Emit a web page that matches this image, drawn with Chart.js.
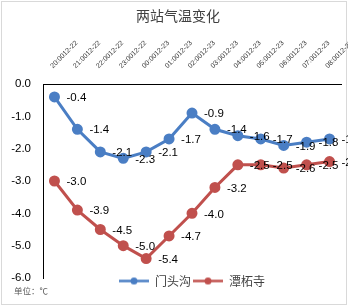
<!DOCTYPE html>
<html>
<head>
<meta charset="utf-8">
<script src="https://cdn.jsdelivr.net/npm/chart.js@4.4.1/dist/chart.umd.min.js"></script>
<style>
  html, body { margin: 0; padding: 0; background: #fff; }
</style>
</head>
<body>
<canvas id="tempChart" width="348" height="306"></canvas>
<script>
// hourly readings, 20:00 on 12-22 to 08:00 on 12-23
const times = ['20:0012-22', '21:0012-22', '22:0012-22', '23:0012-22', '00:0012-23', '01:0012-23',
               '02:0012-23', '03:0012-23', '04:0012-23', '05:0012-23', '06:0012-23', '07:0012-23', '08:0012-23'];
const mentougou = [-0.4, -1.4, -2.1, -2.3, -2.1, -1.7, -0.9, -1.4, -1.6, -1.7, -1.9, -1.8, -1.7];
const tanzhesi = [-3.0, -3.9, -4.5, -5.0, -5.4, -4.7, -4.0, -3.2, -2.5, -2.5, -2.6, -2.5, -2.4];
const yMin = -6;
const yMax = 0;

const BLUE = '#4a7ec4';
const RED = '#c0504d';
const NUM_FONT = '"Liberation Sans", Arial, sans-serif';
const CJK_FONT = '"Noto Sans CJK SC", sans-serif';

// small line + dot swatch for the legend
function legendMarker(color) {
    const c = document.createElement('canvas');
    c.width = 30;
    c.height = 9;
    const g = c.getContext('2d');
    g.strokeStyle = color;
    g.lineWidth = 2.5;
    g.beginPath();
    g.moveTo(0, 4.5);
    g.lineTo(30, 4.5);
    g.stroke();
    g.fillStyle = color;
    g.beginPath();
    g.arc(15, 4.5, 3.5, 0, Math.PI * 2);
    g.fill();
    return c;
}

// value labels to the right of every point
const pointLabels = {
    id: 'pointLabels',
    afterDatasetsDraw(chart) {
        const ctx = chart.ctx;
        ctx.save();
        ctx.font = '11.5px ' + NUM_FONT;
        ctx.fillStyle = '#000';
        ctx.textAlign = 'left';
        ctx.textBaseline = 'middle';
        chart.data.datasets.forEach((ds, i) => {
            chart.getDatasetMeta(i).data.forEach((pt, j) => {
                ctx.fillText(ds.data[j].toFixed(1), pt.x + 12, pt.y + 1);
            });
        });
        ctx.restore();
    }
};

// white background and thin frame
const frame = {
    id: 'frame',
    beforeDraw(chart) {
        const ctx = chart.ctx;
        ctx.save();
        ctx.fillStyle = '#fff';
        ctx.fillRect(0, 0, chart.width, chart.height);
        ctx.strokeStyle = '#d9d9d9';
        ctx.lineWidth = 1;
        ctx.strokeRect(1.5, 1.5, chart.width - 3, chart.height - 3);
        ctx.restore();
    }
};

// legend sits just under the plot like in excel,
// and the y labels must not be clipped by the left padding
const layoutTweaks = {
    id: 'layoutTweaks',
    afterLayout(chart) {
        const lg = chart.legend;
        if (lg) {
            lg.top = chart.chartArea.bottom - 5;
            lg.bottom = lg.top + 20;
        }
        chart.scales.y.left = 0;
    }
};

new Chart(document.getElementById('tempChart'), {
    type: 'line',
    data: {
        labels: times,
        datasets: [{
            label: '门头沟',
            data: mentougou,
            borderColor: BLUE,
            backgroundColor: BLUE,
            pointBackgroundColor: BLUE,
            pointBorderColor: BLUE,
            borderWidth: 3,
            pointRadius: 4,
            tension: 0
        }, {
            label: '潭柘寺',
            data: tanzhesi,
            borderColor: RED,
            backgroundColor: RED,
            pointBackgroundColor: RED,
            pointBorderColor: RED,
            borderWidth: 3,
            pointRadius: 4,
            tension: 0
        }]
    },
    options: {
        responsive: false,
        animation: false,
        layout: {
            padding: { left: 14, right: 6, top: 0, bottom: 9.8 }
        },
        plugins: {
            title: {
                display: true,
                text: '两站气温变化',
                color: '#404040',
                font: { family: CJK_FONT, size: 14, weight: 'normal' },
                padding: { top: 7.6, bottom: 0 }
            },
            subtitle: {
                display: true,
                text: '单位：℃',
                position: 'bottom',
                align: 'start',
                color: '#595959',
                font: { family: CJK_FONT, size: 8.5 },
                padding: 0
            },
            legend: {
                position: 'bottom',
                fullSize: false,
                maxHeight: 8,
                labels: {
                    usePointStyle: true,
                    pointStyleWidth: 30,
                    padding: 2,
                    font: { family: CJK_FONT, size: 12 },
                    generateLabels: chart => chart.data.datasets.map((ds, i) => ({
                        text: ds.label,
                        pointStyle: legendMarker(ds.borderColor),
                        fillStyle: ds.borderColor,
                        strokeStyle: ds.borderColor,
                        fontColor: '#404040',
                        lineWidth: 0,
                        hidden: false,
                        datasetIndex: i
                    }))
                }
            },
            tooltip: { enabled: false }
        },
        scales: {
            x: {
                position: 'top',
                offset: true,
                grid: { display: false, drawTicks: false },
                border: { color: '#000', width: 1 },
                ticks: {
                    autoSkip: false,
                    minRotation: 45,
                    maxRotation: 45,
                    padding: 14,
                    labelOffset: 3,
                    color: '#333',
                    font: { family: NUM_FONT, size: 7 }
                },
                afterFit(s) {
                    s.height = 59.6;
                    s.paddingLeft = 0;
                    s.paddingRight = 0;
                }
            },
            y: {
                min: yMin,
                max: yMax,
                grid: { display: false, drawTicks: false },
                border: { color: '#000', width: 1 },
                ticks: {
                    stepSize: 1,
                    padding: 12,
                    color: '#000',
                    font: { family: NUM_FONT, size: 11.5 },
                    callback: v => v.toFixed(1)
                },
                afterFit(s) {
                    s.width = 29;
                    s.paddingTop = 0;
                    s.paddingBottom = 0;
                }
            }
        }
    },
    plugins: [frame, pointLabels, layoutTweaks]
});
</script>
</body>
</html>
